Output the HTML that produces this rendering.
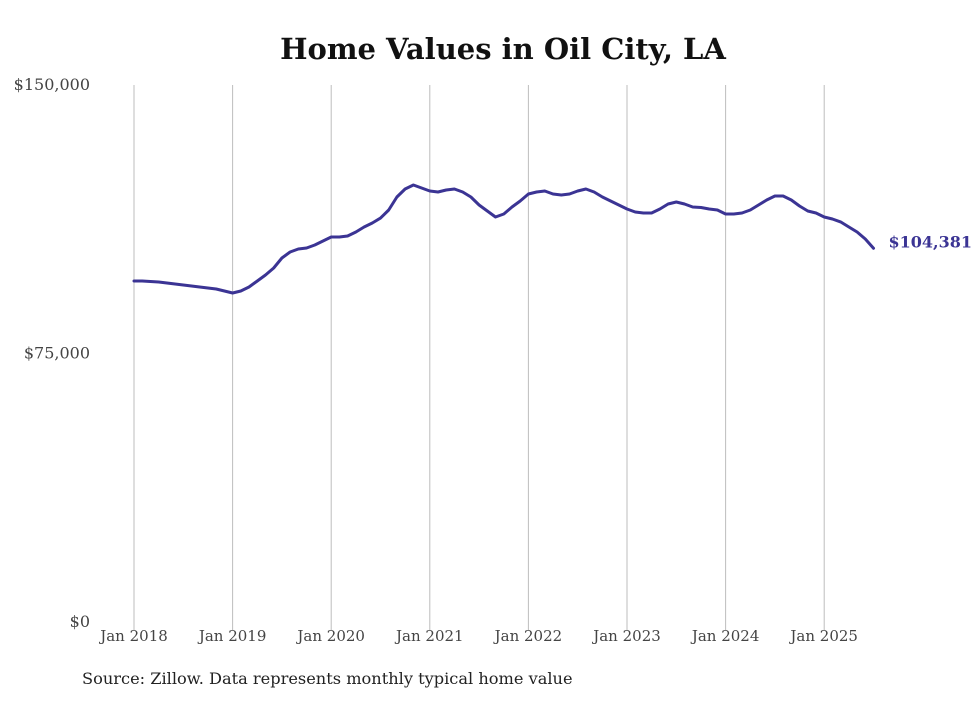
<!DOCTYPE html>
<html><head><meta charset="utf-8"><style>
body{margin:0;background:#fff;}
svg text{font-family:"DejaVu Serif","Liberation Serif",serif;}
</style></head><body>
<svg id="chart" width="980" height="699" viewBox="0 0 980 699" xmlns="http://www.w3.org/2000/svg">
<rect width="980" height="699" fill="#fff"/>
<text x="503" y="59" text-anchor="middle" font-size="29" font-weight="bold" fill="#111">Home Values in Oil City, LA</text>
<g id="grid"></g><g id="axes"></g><g id="series"></g>
<text x="82" y="684" font-size="16.2" fill="#222">Source: Zillow. Data represents monthly typical home value</text>
</svg>
<script>
const yearLabels=["Jan 2018","Jan 2019","Jan 2020","Jan 2021","Jan 2022","Jan 2023","Jan 2024","Jan 2025"];
const yTicks=[0,75000,150000];
const yTickLabels=["$0","$75,000","$150,000"];
const values=[
95250,95250,95110,94970,94690,94410,94130,93860,93580,93300,93020,92460,
91900,92460,93580,95250,96930,98880,101680,103350,104190,104470,105310,106420,
107540,107540,107820,108940,110330,111450,112820,115080,118710,120950,122070,121230,
120390,120110,120670,120950,120110,118710,116480,114800,113120,113960,115920,117600,
119550,120110,120390,119550,119270,119550,120390,120950,120110,118710,117600,116480,
115360,114530,114250,114250,115360,116760,117320,116760,115920,115780,115360,115080,
113960,113960,114250,115080,116480,117880,118990,118990,117880,116200,114800,114250,
113130,112570,111770,110330,108940,106980,104381];
const finalLabel="$104,381";
const NS="http://www.w3.org/2000/svg";
const x=i=>134+i*(98.6/12);
const y=v=>622-v/150000*537;
const grid=document.getElementById('grid'),axes=document.getElementById('axes'),series=document.getElementById('series');
function mk(tag,attrs,parent){const e=document.createElementNS(NS,tag);for(const k in attrs)e.setAttribute(k,attrs[k]);parent.appendChild(e);return e;}
yearLabels.forEach((lab,k)=>{
  const gx=x(k*12);
  const l=mk('line',{x1:gx,x2:gx,y1:85,y2:630,stroke:'#bdbdbd','stroke-width':1},grid);
  
  
  const t=mk('text',{x:gx,y:641,'text-anchor':'middle','font-size':15,fill:'#444'},axes);
  
  
  t.textContent=lab;
});
yTicks.forEach((v,k)=>{
  const t=mk('text',{x:90,y:y(v)+5,'text-anchor':'end','font-size':16,fill:'#444'},axes);
  
  
  t.textContent=yTickLabels[k];
});
const d=values.map((v,i)=>(i?'L':'M')+x(i).toFixed(1)+','+y(v).toFixed(1)).join(' ');
const p=mk('path',{d:d,fill:'none',stroke:'#3b3494','stroke-width':3,'stroke-linejoin':'round','stroke-linecap':'round'},series);


const li=values.length-1;
const ft=mk('text',{x:x(li)+15,y:y(values[li])-1,'font-size':16,'font-weight':'bold',fill:'#3b3494'},series);


ft.textContent=finalLabel;
</script>
</body></html>
